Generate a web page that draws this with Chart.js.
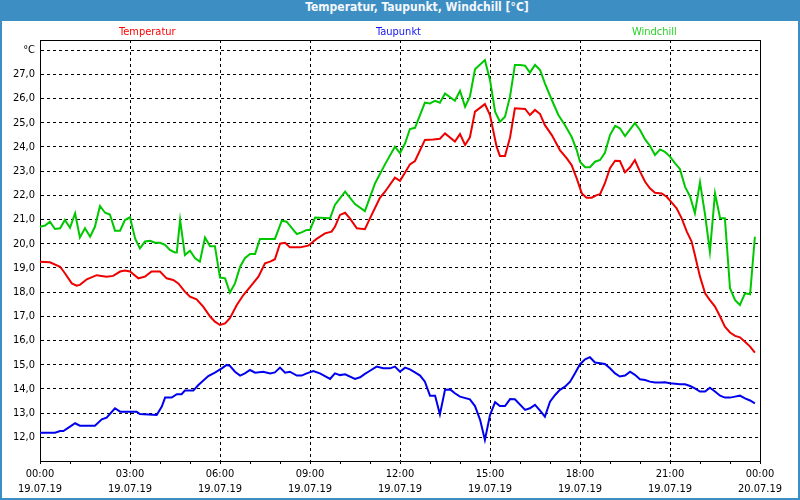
<!DOCTYPE html>
<html>
<head>
<meta charset="utf-8">
<script src="https://cdn.jsdelivr.net/npm/chart.js@4"></script>
<style>
  body { margin: 0; background: #3d8ec3; }
  #wrap { position: relative; width: 800px; height: 500px; background: #3d8ec3; overflow: hidden; }
  #panel { position: absolute; left: 2px; top: 21px; width: 796px; height: 477px; background: #fff; }
  #title { position: absolute; left: 0; top: 0; width: 834px; height: 21px; line-height: 21px;
           text-align: center; color: #f4f8fc; font: bold 12px 'DejaVu Sans Condensed', 'Liberation Sans', sans-serif; }
  #chart { position: absolute; left: 0; top: 0; }
</style>
</head>
<body>
<div id="wrap">
  <div id="title">Temperatur, Taupunkt, Windchill [°C]</div>
  <div id="panel"></div>
  <canvas id="chart" width="800" height="500"></canvas>
</div>
<script>
// series names and colours
const seriesNames = ['Temperatur', 'Taupunkt', 'Windchill'];
const lineColors = ['#ee0000', '#0000ee', '#00c800'];
const legendColors = ['#ff0000', '#1414f0', '#28d228'];

// time in hours since 19.07.19 00:00
const tempHours = [0, 0.33, 0.67, 0.83, 1.06, 1.22, 1.33, 1.56, 1.89, 2.22, 2.44, 2.67, 2.83, 3, 3.28, 3.5, 3.72, 4, 4.22, 4.44,
  4.61, 4.83, 5, 5.22, 5.44, 5.67, 5.83, 6, 6.17, 6.33, 6.56, 6.78, 7.06, 7.28, 7.5, 7.67, 7.83, 8, 8.17, 8.33,
  8.67, 8.94, 9.22, 9.5, 9.72, 9.83, 10, 10.17, 10.33, 10.56, 10.83, 11, 11.33, 11.5, 11.83, 12, 12.17, 12.33, 12.5, 12.83,
  13.11, 13.33, 13.5, 13.83, 14, 14.17, 14.33, 14.5, 14.83, 15, 15.22, 15.33, 15.5, 15.67, 15.83, 16.17, 16.33, 16.5, 16.67, 16.83,
  17.06, 17.33, 17.56, 17.72, 17.89, 18.06, 18.22, 18.39, 18.56, 18.67, 18.83, 19, 19.17, 19.33, 19.5, 19.67, 19.83, 20, 20.17, 20.33,
  20.5, 20.72, 20.89, 21.06, 21.22, 21.39, 21.56, 21.72, 21.83, 22, 22.17, 22.33, 22.5, 22.67, 22.83, 23, 23.17, 23.33, 23.5, 23.67, 23.83];
const tempValues = [19.26, 19.23, 19.05, 18.78, 18.36, 18.27, 18.3, 18.53, 18.7, 18.64, 18.67, 18.85, 18.89, 18.85, 18.57, 18.64, 18.85, 18.85, 18.57, 18.5,
  18.36, 18.02, 17.81, 17.7, 17.4, 16.99, 16.78, 16.64, 16.71, 16.92, 17.47, 17.88, 18.3, 18.64, 19.19, 19.26, 19.36, 20.0, 20.04, 19.85,
  19.85, 19.92, 20.2, 20.43, 20.5, 20.7, 21.19, 21.28, 21.05, 20.64, 20.6, 21.05, 21.9, 22.15, 22.73, 22.6, 22.94, 23.28, 23.42, 24.29,
  24.31, 24.34, 24.56, 24.22, 24.53, 24.08, 24.4, 25.46, 25.77, 25.32, 24.01, 23.63, 23.63, 24.4, 25.6, 25.57, 25.32, 25.53, 25.36, 24.9,
  24.49, 23.87, 23.53, 23.25, 22.7, 22.08, 21.9, 21.9, 22.01, 22.05, 22.5, 23.12, 23.43, 23.42, 22.95, 23.16, 23.46, 22.98, 22.56, 22.29,
  22.11, 22.08, 21.94, 21.7, 21.46, 21.05, 20.5, 20.09, 19.53, 18.64, 17.95, 17.67, 17.4, 16.99, 16.57, 16.33, 16.19, 16.13, 15.95, 15.75, 15.5];

const dewHours = [0, 0.5, 0.67, 0.78, 1, 1.17, 1.33, 1.83, 2.06, 2.22, 2.5, 2.67, 3.22, 3.33, 3.89, 4.06, 4.17, 4.39, 4.56, 4.72,
  4.83, 5.11, 5.28, 5.61, 5.83, 6.06, 6.22, 6.33, 6.5, 6.67, 6.83, 7, 7.17, 7.44, 7.67, 7.83, 8, 8.17, 8.33, 8.56,
  8.72, 8.89, 9.11, 9.33, 9.67, 9.83, 10, 10.17, 10.5, 10.67, 10.83, 11, 11.22, 11.44, 11.67, 11.83, 12, 12.17, 12.33, 12.5,
  12.67, 12.83, 13, 13.17, 13.33, 13.5, 13.67, 13.83, 14, 14.33, 14.5, 14.67, 14.83, 15, 15.17, 15.33, 15.5, 15.67, 15.83, 16.17,
  16.33, 16.5, 16.67, 16.83, 17, 17.17, 17.33, 17.5, 17.67, 17.83, 18, 18.17, 18.33, 18.5, 18.67, 18.83, 19, 19.17, 19.33, 19.5,
  19.67, 19.83, 20, 20.17, 20.33, 20.5, 20.67, 20.83, 21, 21.17, 21.33, 21.5, 21.67, 21.83, 22, 22.17, 22.33, 22.5, 22.67, 22.83,
  23, 23.17, 23.33, 23.5, 23.67, 23.83];
const dewValues = [12.19, 12.19, 12.26, 12.26, 12.44, 12.58, 12.48, 12.48, 12.74, 12.81, 13.2, 13.06, 13.06, 12.96, 12.92, 13.27, 13.64, 13.64, 13.78, 13.78,
  13.93, 13.93, 14.16, 14.53, 14.67, 14.85, 14.99, 14.95, 14.71, 14.55, 14.64, 14.78, 14.67, 14.71, 14.64, 14.68, 14.88, 14.67, 14.71, 14.55,
  14.55, 14.64, 14.74, 14.64, 14.41, 14.64, 14.57, 14.6, 14.41, 14.48, 14.62, 14.75, 14.92, 14.85, 14.85, 14.92, 14.71, 14.88, 14.81, 14.68,
  14.55, 14.3, 13.72, 13.72, 12.95, 13.96, 13.98, 13.82, 13.68, 13.57, 13.29, 12.72, 11.89, 12.92, 13.45, 13.29, 13.29, 13.58, 13.57, 13.13,
  13.2, 13.34, 13.1, 12.85, 13.47, 13.75, 13.96, 14.09, 14.3, 14.64, 15.02, 15.22, 15.31, 15.09, 15.06, 15.03, 14.85, 14.64, 14.51, 14.55,
  14.71, 14.58, 14.4, 14.37, 14.3, 14.26, 14.26, 14.27, 14.23, 14.21, 14.19, 14.19, 14.12, 14.02, 13.89, 13.89, 14.05, 13.89, 13.72, 13.64,
  13.64, 13.68, 13.72, 13.61, 13.52, 13.4];

const chillHours = [0, 0.17, 0.33, 0.5, 0.67, 0.83, 1, 1.17, 1.33, 1.5, 1.67, 1.83, 2, 2.17, 2.33, 2.5, 2.67, 2.83, 3, 3.17,
  3.33, 3.5, 3.67, 3.83, 4, 4.17, 4.33, 4.5, 4.56, 4.67, 4.83, 5, 5.17, 5.33, 5.5, 5.67, 5.83, 6, 6.17, 6.33,
  6.5, 6.67, 6.83, 7, 7.17, 7.33, 7.83, 8.06, 8.22, 8.56, 8.72, 8.89, 9, 9.17, 9.67, 9.83, 10.17, 10.5, 10.83, 11.17,
  11.5, 11.83, 12, 12.17, 12.33, 12.5, 12.83, 13, 13.17, 13.33, 13.5, 13.83, 14, 14.17, 14.33, 14.5, 14.83, 15, 15.17, 15.33,
  15.5, 15.67, 15.83, 16, 16.17, 16.33, 16.5, 16.67, 16.83, 17.06, 17.28, 17.5, 17.72, 17.89, 18, 18.17, 18.33, 18.5, 18.67, 18.83,
  19, 19.17, 19.33, 19.5, 19.67, 19.83, 20, 20.17, 20.33, 20.5, 20.67, 20.83, 21, 21.17, 21.33, 21.5, 21.67, 21.83, 22, 22.17,
  22.33, 22.5, 22.67, 22.83, 23, 23.17, 23.33, 23.5, 23.67, 23.83];
const chillValues = [20.7, 20.75, 20.91, 20.61, 20.64, 20.98, 20.66, 21.26, 20.26, 20.64, 20.29, 20.7, 21.56, 21.28, 21.21, 20.54, 20.54, 20.98, 21.09, 20.22,
  19.81, 20.09, 20.12, 20.04, 20.04, 19.95, 19.74, 19.64, 19.64, 20.98, 19.53, 19.71, 19.4, 19.26, 20.26, 19.9, 19.9, 18.6, 18.57, 17.98,
  18.36, 19.05, 19.4, 19.58, 19.58, 20.2, 20.2, 20.95, 20.91, 20.4, 20.47, 20.57, 20.57, 21.08, 21.05, 21.6, 22.15, 21.64, 21.35, 22.5,
  23.28, 24.01, 23.74, 24.15, 24.74, 24.79, 25.83, 25.8, 25.91, 25.83, 26.21, 25.91, 26.32, 25.66, 26.08, 27.21, 27.59, 26.77, 25.46, 25.04,
  25.25, 26.1, 27.39, 27.39, 27.36, 27.07, 27.39, 27.18, 26.63, 25.94, 25.32, 24.9, 24.42, 23.87, 23.39, 23.16, 23.16, 23.39, 23.46, 23.76,
  24.49, 24.87, 24.77, 24.45, 24.73, 24.98, 24.7, 24.31, 24.05, 23.67, 23.9, 23.8, 23.6, 23.32, 23.09, 22.36, 21.95, 21.26, 22.54, 21.19,
  19.67, 22.08, 21.05, 21.05, 18.16, 17.67, 17.47, 17.95, 17.91, 20.29];

// axis ticks
const hourTicks = Array.from({ length: 25 }, (_, i) => i);
const timeLabels = { 0: '00:00', 3: '03:00', 6: '06:00', 9: '09:00', 12: '12:00', 15: '15:00', 18: '18:00', 21: '21:00', 24: '00:00' };
const dateLabels = { 0: '19.07.19', 3: '19.07.19', 6: '19.07.19', 9: '19.07.19', 12: '19.07.19', 15: '19.07.19', 18: '19.07.19', 21: '19.07.19', 24: '20.07.19' };
const tempTicks = [12, 13, 14, 15, 16, 17, 18, 19, 20, 21, 22, 23, 24, 25, 26, 27, 28];

const font = "'DejaVu Sans Condensed', 'Liberation Sans', sans-serif";

function toPoints(xs, ys) {
  return xs.map((x, i) => ({ x, y: ys[i] }));
}

// frame on top/right and the coloured series names above the plot
const frameAndNames = {
  id: 'frameAndNames',
  afterDraw(chart) {
    const { ctx, chartArea: a } = chart;
    ctx.save();
    ctx.strokeStyle = '#000';
    ctx.lineWidth = 1;
    ctx.beginPath();
    ctx.moveTo(a.left, a.top + 0.5);
    ctx.lineTo(a.right + 1, a.top + 0.5);
    ctx.moveTo(a.right + 0.5, a.top);
    ctx.lineTo(a.right + 0.5, a.bottom + 1);
    ctx.stroke();
    ctx.font = '11px ' + font;
    ctx.textBaseline = 'middle';
    const nameX = [119, 376, 632];
    seriesNames.forEach((name, i) => {
      ctx.fillStyle = legendColors[i];
      ctx.fillText(name, nameX[i], 32);
    });
    ctx.restore();
  }
};

new Chart(document.getElementById('chart'), {
  type: 'line',
  data: {
    datasets: [
      { label: seriesNames[0], data: toPoints(tempHours, tempValues), borderColor: lineColors[0] },
      { label: seriesNames[1], data: toPoints(dewHours, dewValues), borderColor: lineColors[1] },
      { label: seriesNames[2], data: toPoints(chillHours, chillValues), borderColor: lineColors[2] }
    ]
  },
  options: {
    responsive: false,
    animation: false,
    devicePixelRatio: 1,
    layout: { padding: { left: 0, right: 40, top: 40, bottom: 0 } },
    elements: {
      line: { borderWidth: 2, tension: 0, fill: false },
      point: { radius: 0, hoverRadius: 0 }
    },
    plugins: {
      legend: { display: false },
      title: { display: false },
      tooltip: { enabled: false }
    },
    scales: {
      x: {
        type: 'linear',
        min: 0,
        max: 24,
        afterBuildTicks: scale => { scale.ticks = hourTicks.map(v => ({ value: v })); },
        afterFit: scale => { scale.height = 39; },
        ticks: {
          autoSkip: false,
          maxRotation: 0,
          padding: 3,
          color: '#000',
          font: { family: font, size: 11, lineHeight: 1.35 },
          callback: v => (v % 3 === 0 ? [timeLabels[v], dateLabels[v]] : '')
        },
        grid: {
          color: ctx => (ctx.tick && ctx.tick.value % 3 === 0 && ctx.tick.value > 0 && ctx.tick.value < 24 ? '#000' : 'rgba(0,0,0,0)'),
          tickColor: '#000',
          tickLength: 3,
          lineWidth: 1
        },
        border: { display: true, color: '#000', width: 1, dash: [3, 3] }
      },
      y: {
        min: 11.02,
        max: 28.42,
        afterBuildTicks: scale => { scale.ticks = tempTicks.map(v => ({ value: v })); },
        afterFit: scale => { scale.width = 40; },
        ticks: {
          padding: 5,
          color: '#000',
          font: { family: font, size: 11 },
          callback: v => (v === 28 ? '°C' : v.toFixed(1).replace('.', ','))
        },
        grid: { color: '#000', lineWidth: 1, drawTicks: false },
        border: { display: true, color: '#000', width: 1, dash: [3, 3] }
      }
    }
  },
  plugins: [frameAndNames]
});
</script>
</body>
</html>
